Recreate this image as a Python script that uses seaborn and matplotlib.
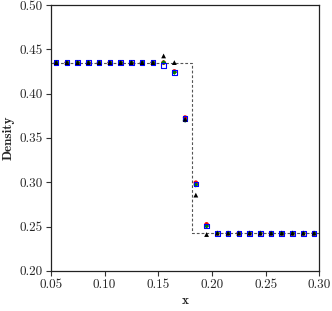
import numpy as np
import pandas as pd
import matplotlib
matplotlib.use("Agg")
import matplotlib.pyplot as plt
import seaborn as sns

# Cell centres
x = [0.055, 0.065, 0.075, 0.085, 0.095, 0.105, 0.115, 0.125, 0.135, 0.145,
     0.155, 0.165, 0.175, 0.185, 0.195, 0.205, 0.215, 0.225, 0.235, 0.245,
     0.255, 0.265, 0.275, 0.285, 0.295]

rho_red = [0.435] * 10 + [0.435, 0.425, 0.373, 0.2995, 0.2525] + [0.2425] * 10
rho_green = [0.435] * 10 + [0.435, 0.424, 0.370, 0.297, 0.2505] + [0.2425] * 10
rho_blue = [0.435] * 10 + [0.432, 0.424, 0.372, 0.298, 0.2505] + [0.2425] * 10
rho_black = [0.435] * 10 + [0.4425, 0.435, 0.371, 0.2855, 0.241] + [0.2425] * 10

# exact solution (step)
x_exact = [0.05, 0.1812, 0.1812, 0.30]
rho_exact = [0.435, 0.435, 0.2425, 0.2425]

sns.set_style("ticks")
plt.rcParams["font.family"] = ["cmr10", "DejaVu Serif"]
plt.rcParams["axes.formatter.use_mathtext"] = True
plt.rcParams["mathtext.fontset"] = "cm"

fig = plt.figure(figsize=(3.32, 3.11), dpi=100)
ax = fig.add_axes([0.153, 0.129, 0.809, 0.855])

exact = pd.DataFrame({"x": x_exact, "rho": rho_exact})
sns.lineplot(data=exact, x="x", y="rho", sort=False, estimator=None, ax=ax,
             color="#555555", lw=0.8, dashes=False, linestyle=(0, (2.5, 1.8)))

df = pd.DataFrame({"x": x, "red": rho_red, "green": rho_green,
                   "blue": rho_blue, "black": rho_black})
sns.scatterplot(data=df, x="x", y="red", ax=ax, marker="o", s=11,
                color="red", edgecolor="none", zorder=3)
sns.scatterplot(data=df, x="x", y="green", ax=ax, marker="D", s=7,
                color="green", edgecolor="none", zorder=4)
sns.scatterplot(data=df, x="x", y="blue", ax=ax, marker="s", s=11,
                facecolor="none", edgecolor="blue", linewidth=0.8, zorder=5)
sns.scatterplot(data=df, x="x", y="black", ax=ax, marker="^", s=12,
                color="black", edgecolor="none", zorder=6)

ax.set_xlim(0.05, 0.30)
ax.set_ylim(0.20, 0.50)
ax.set_xticks(np.arange(0.05, 0.301, 0.05))
ax.set_yticks(np.arange(0.20, 0.501, 0.05))
ax.set_xticklabels(["0.05", "0.10", "0.15", "0.20", "0.25", "0.30"])
ax.set_yticklabels(["0.20", "0.25", "0.30", "0.35", "0.40", "0.45", "0.50"])
ax.tick_params(labelsize=9.5, length=3.5, width=0.8, color="#333333", pad=2.5)
ax.set_xlabel("x", family="cmb10", fontsize=9.5, labelpad=3)
ax.set_ylabel("Density", family="cmb10", fontsize=9.5, labelpad=3)
for sp in ax.spines.values():
    sp.set_linewidth(0.9)
    sp.set_color("#222222")

fig.savefig("out.png", dpi=100)
